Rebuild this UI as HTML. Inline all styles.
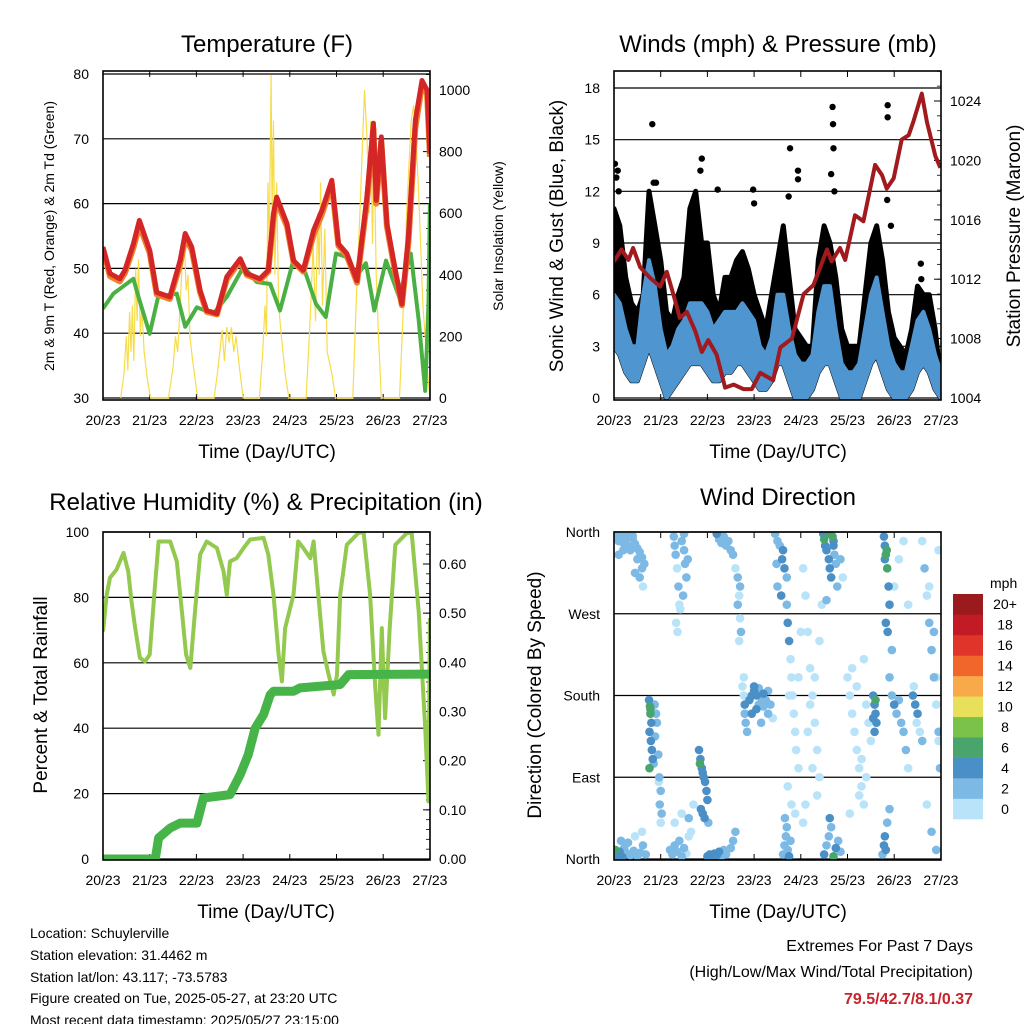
<!DOCTYPE html>
<html><head><meta charset="utf-8">
<style>
html,body{margin:0;padding:0;background:#fff;}
svg{display:block;font-family:"Liberation Sans",sans-serif;}
</style></head>
<body>
<svg id="fig" width="1024" height="1024" viewBox="0 0 1024 1024" xmlns="http://www.w3.org/2000/svg">
<rect width="1024" height="1024" fill="#fff"/>
<g id="p1"></g>
<g id="p2"></g>
<g id="p3"></g>
<g id="p4"></g>

<text x="267" y="52" font-size="24" text-anchor="middle">Temperature (F)</text>
<text x="778" y="52" font-size="24" text-anchor="middle">Winds (mph) &amp; Pressure (mb)</text>
<text x="266" y="510" font-size="24" text-anchor="middle">Relative Humidity (%) &amp; Precipitation (in)</text>
<text x="778" y="505" font-size="24" text-anchor="middle">Wind Direction</text>

<text x="267" y="458" font-size="19" text-anchor="middle">Time (Day/UTC)</text>
<text x="778" y="458" font-size="19" text-anchor="middle">Time (Day/UTC)</text>
<text x="266" y="918" font-size="19" text-anchor="middle">Time (Day/UTC)</text>
<text x="778" y="918" font-size="19" text-anchor="middle">Time (Day/UTC)</text>

<text transform="translate(54,236) rotate(-90)" font-size="14" text-anchor="middle">2m &amp; 9m T (Red, Orange) &amp; 2m Td (Green)</text>
<text transform="translate(503,236) rotate(-90)" font-size="14" text-anchor="middle">Solar Insolation (Yellow)</text>
<text transform="translate(563,236) rotate(-90)" font-size="19" text-anchor="middle">Sonic Wind &amp; Gust (Blue, Black)</text>
<text transform="translate(1020,236) rotate(-90)" font-size="19" text-anchor="middle">Station Pressure (Maroon)</text>
<text transform="translate(47,695) rotate(-90)" font-size="19" text-anchor="middle">Percent &amp; Total Rainfall</text>
<text transform="translate(541,695) rotate(-90)" font-size="19" text-anchor="middle">Direction (Colored By Speed)</text>

<g font-size="14">
<text x="30" y="938">Location: Schuylerville</text>
<text x="30" y="960">Station elevation: 31.4462 m</text>
<text x="30" y="982">Station lat/lon: 43.117; -73.5783</text>
<text x="30" y="1003">Figure created on Tue, 2025-05-27, at 23:20 UTC</text>
<text x="30" y="1025" >Most recent data timestamp: 2025/05/27 23:15:00</text>
</g>
<g text-anchor="end">
<text x="973" y="951" font-size="16">Extremes For Past 7 Days</text>
<text x="973" y="977" font-size="16">(High/Low/Max Wind/Total Precipitation)</text>
<text x="973" y="1004" font-size="16" font-weight="bold" fill="#c8232c">79.5/42.7/8.1/0.37</text>
</g>
<g id="cbar">
<text x="990" y="588" font-size="14">mph</text>
</g>
</svg>
<script>
// ---------- data ----------
const dayLabels = ["20/23","21/23","22/23","23/23","24/23","25/23","26/23","27/23"];
const tempTicks = [30,40,50,60,70,80];
const solarTicks = [0,200,400,600,800,1000];
const windTicks = [0,3,6,9,12,15,18];
const presTicks = [1004,1008,1012,1016,1020,1024];
const rhTicks = [0,20,40,60,80,100];
const precipTicks = [0,0.1,0.2,0.3,0.4,0.5,0.6];
const dirTicks = [0,90,180,270,360];
const dirNames = ["North","East","South","West","North"];
const speedBins = ["0","2","4","6","8","10","12","14","16","18","20+"];

const tempTimes = [0,0.15,0.36,0.47,0.65,0.78,1.0,1.15,1.43,1.65,1.76,1.9,2.08,2.22,2.44,2.65,2.94,3.08,3.36,3.54,3.65,3.72,3.94,4.08,4.29,4.51,4.69,4.9,5.04,5.22,5.44,5.65,5.79,5.85,5.96,6.08,6.26,6.4,6.54,6.69,6.83,6.94,7.0];
const tempRed = [53.3,49.2,48.4,49.7,53.8,57.4,52.8,46.3,45.6,51.2,55.4,53.3,46.6,43.5,43,48.7,51.5,49.2,48.4,49.7,58.5,61,56.9,51.2,49.7,55.9,59,63.6,53.8,52.3,48.1,61,72.4,60.5,70.3,56.9,49.7,44.5,54.8,72.9,79,77.5,67.7];
const tempOrange = [53,48.8,48,49.3,53.2,56.6,52.4,46,45.3,50.6,54.6,52.9,46.3,43.3,42.9,48.3,51.2,49,48.2,49.5,57.8,60.3,56.5,51,49.5,55.2,58.4,63,53.5,52,47.8,60.2,71.6,60,69.6,56.5,49.3,44.3,54,71.8,78.3,77,67.2];
const dewTimes = [0,0.22,0.65,0.76,1.0,1.18,1.58,1.76,2.01,2.36,2.65,3.01,3.29,3.58,3.79,4.06,4.34,4.56,4.77,4.99,5.2,5.41,5.63,5.81,6.06,6.34,6.59,6.76,6.9,6.97,7.0];
const dewVals = [43.8,46.1,48.4,45.6,39.9,45.6,46.1,41,44,43,45.6,50.3,47.9,47.6,43.5,50.8,49.2,44.5,42.5,52.3,51.8,48.6,50.8,43.5,51.2,45.6,52.3,42,31.1,44.5,60];
const solarTimes = [0.38,0.45,0.5,0.53,0.57,0.6,0.63,0.66,0.7,0.73,0.76,0.8,0.83,0.88,0.95,1.02,
 1.4,1.5,1.55,1.6,1.65,1.7,1.74,1.78,1.82,1.86,1.92,2.0,2.03,
 2.38,2.45,2.5,2.55,2.6,2.65,2.7,2.75,2.8,2.85,2.92,3.0,
 3.35,3.42,3.47,3.5,3.53,3.56,3.6,3.62,3.65,3.68,3.72,3.76,3.82,3.9,3.98,
 4.35,4.4,4.45,4.5,4.55,4.6,4.63,4.66,4.7,4.75,4.8,4.9,4.98,
 5.35,5.42,5.5,5.55,5.6,5.65,5.7,5.73,5.77,5.8,5.85,5.9,5.96,
 6.35,6.42,6.5,6.55,6.6,6.65,6.7,6.75,6.8,6.85,6.9,6.95,7.0];
const solarVals = [0,80,200,90,280,150,300,120,420,250,450,200,300,150,60,0,
 0,100,200,150,300,450,520,350,400,200,120,30,0,
 0,80,150,220,120,230,180,230,150,200,100,0,
 0,150,300,200,700,500,1050,600,900,400,700,300,200,80,0,
 0,150,300,500,250,600,400,700,300,550,150,80,0,
 0,300,600,800,1000,850,600,900,500,850,400,200,0,
 0,250,600,750,900,950,850,700,500,300,200,80,0];

const presTimes = [0,0.16,0.31,0.41,0.56,0.77,0.99,1.13,1.27,1.41,1.56,1.74,1.88,2.02,2.2,2.38,2.56,2.77,2.95,3.13,3.41,3.56,3.81,4.06,4.27,4.56,4.66,4.84,4.95,5.16,5.34,5.59,5.74,5.84,5.99,6.16,6.31,6.41,6.59,6.7,6.88,6.99];
const presVals = [1013.2,1014,1013.3,1014.1,1012.8,1012.1,1011.5,1012.5,1011,1009.4,1009.8,1008.5,1007.1,1007.9,1006.9,1004.7,1004.9,1004.6,1004.6,1005.7,1005.2,1007.4,1008,1011,1011.6,1014,1013.2,1014.1,1013.3,1016.3,1015.9,1019.7,1019,1018.1,1018.8,1021.4,1021.7,1022.6,1024.5,1022.6,1020.3,1019.5];
const gustMax = [11,10,7,5.5,5,6,12,10,8,5,4.5,6,7,11,12,9,9,6,5,7,7,8,8.5,7.5,6,5,4,6,8,10,7,4,3.5,3,3,8,10,9,7,4,3,3,3,6,9,10,8,5,3.5,3,2.5,4,6.5,6,6,4,1];
const windHi = [6,5.5,4,3,3,6,8,6.5,4,2.5,3,4,4.5,5.5,5.5,5.5,5,4,4.5,5,5,5,5.5,5,4.5,3,2.5,3.5,6,6,4,2.5,2,2,2.5,5,6.5,6.5,4,2,1.5,1.5,2,4,6,7,5,3,2,1.5,1.5,3,4.5,5,4,2.5,1.5];
const windLo = [3,2.5,1.5,1,1,2,3,2,1,0,0.5,1,1.5,2,2,2,1.5,1,1,1.5,1.5,2,2,1.5,1,0.5,0.5,1,2,2,1,0,0,0,0.5,1.5,2,2,1,0,0,0,0,1,2,2.5,1.5,0.5,0,0,0,0.5,1.5,2,1.5,0.5,0];
const gustOutT = [0.82,0.85,0.9,1.88,1.85,2.22,2.98,3.0,3.77,3.94,3.94,3.74,4.68,4.69,4.7,4.65,4.72,5.86,5.86,5.85,5.93,6.58,6.57,0.02,0.05,0.1,0.08];
const gustOutV = [15.9,12.5,12.5,13.9,13.2,12.1,12.1,11.3,14.5,13.2,12.7,11.7,16.9,15.9,14.5,13,12,17,16.3,11.5,10,6.9,7.8,13.6,12.8,12,13.2];

const rhTimes = [0,0.08,0.15,0.29,0.44,0.54,0.61,0.69,0.79,0.9,1.0,1.11,1.19,1.44,1.58,1.69,1.78,1.87,1.97,2.08,2.22,2.44,2.58,2.65,2.72,2.86,3.01,3.15,3.44,3.54,3.65,3.76,3.83,3.9,4.08,4.18,4.29,4.44,4.51,4.61,4.72,4.83,4.94,5.01,5.08,5.22,5.47,5.58,5.72,5.83,5.9,5.97,6.04,6.14,6.26,6.51,6.61,6.76,6.9,6.97,7.0];
const rhVals = [69.6,80.8,86,88.5,93.6,88,78.8,70.6,61.5,60.4,62.5,82.9,97.1,97.1,91,75.7,62.5,58.4,75.7,93.1,97.1,95.1,88,80.8,91,92,95.1,97.7,98.2,93.1,80.8,62.5,54.3,70.6,80.8,97.1,95.1,92,97.1,80.8,63.5,56.4,50.3,56.4,80.8,96.1,99.7,100,80.8,52.3,38,70.6,43.1,70.6,96.1,99.7,99.7,75.7,40,17.6,73.7];
const rainTimes = [0,1.12,1.19,1.44,1.65,2.01,2.15,2.72,2.94,3.11,3.26,3.44,3.58,3.65,4.08,4.22,5.08,5.26,7.0];
const rainVals = [0,0,0.043,0.063,0.073,0.073,0.124,0.131,0.172,0.212,0.266,0.294,0.334,0.341,0.341,0.348,0.355,0.375,0.376];

const dirTimes = [0.02,0.05,0.1,0.15,0.2,0.25,0.3,0.35,0.4,0.45,0.5,0.55,0.6,0.65,0.1,0.2,0.3,0.4,0.5,0.6,0.45,0.55,0.62,
0.0,0.03,0.08,0.12,0.18,0.22,0.28,0.35,0.42,0.5,0.56,0.62,0.68,0.15,0.3,0.45,0.6,
0.75,0.77,0.78,0.8,0.76,0.79,0.81,0.83,0.85,0.87,0.9,0.92,0.78,0.88,0.95,0.76,
0.97,1.0,0.98,1.02,1.0,0.96,
1.28,1.3,1.32,1.35,1.38,1.4,1.45,1.5,1.52,1.55,1.48,1.42,1.33,1.36,1.58,1.5,
1.2,1.25,1.3,1.35,1.4,1.45,1.5,1.55,1.6,1.65,1.3,1.45,1.6,1.7,
1.82,1.85,1.88,1.9,1.92,1.95,1.98,2.0,1.86,1.9,1.94,2.02,1.84,
2.0,2.05,2.1,2.15,2.2,2.25,2.3,2.35,2.4,2.5,2.55,2.6,
2.2,2.25,2.3,2.35,2.4,2.45,2.5,2.55,2.6,2.65,2.7,2.68,
2.65,2.7,2.72,2.68,
2.75,2.78,2.8,2.82,2.85,2.8,2.78,
2.9,2.95,3.0,3.05,3.1,3.15,3.2,3.25,3.3,3.35,2.95,3.05,3.15,3.0,3.1,3.2,3.3,3.4,
3.45,3.5,3.55,3.6,3.65,3.7,3.5,3.58,3.62,3.48,
3.7,3.72,3.75,3.78,3.8,3.82,3.85,3.88,3.9,3.95,3.72,3.8,3.88,3.95,4.0,3.75,
3.62,3.65,3.68,3.7,3.72,3.75,3.78,3.66,
4.48,4.5,4.52,4.55,4.6,4.62,4.65,4.68,4.7,4.72,4.75,4.78,4.55,4.62,4.7,4.85,4.9,
4.05,4.1,4.15,4.2,4.25,4.3,4.35,4.4,4.1,4.2,4.3,4.15,4.25,4.35,4.05,4.4,4.45,
4.5,4.55,4.6,4.65,4.7,4.75,4.8,4.85,4.62,
5.0,5.05,5.1,5.15,5.2,5.25,5.3,5.35,5.4,5.45,5.5,5.1,5.2,5.3,5.4,5.05,5.25,5.35,
5.55,5.58,5.6,5.62,5.58,5.6,5.55,
5.78,5.8,5.82,5.85,5.88,5.9,5.82,5.86,5.84,5.8,
5.9,5.95,6.0,6.05,6.1,6.15,6.2,6.25,6.3,6.0,6.1,6.2,5.95,6.3,
5.75,5.78,5.8,5.85,5.9,5.82,
6.4,6.45,6.5,6.42,6.48,6.55,6.6,
6.6,6.65,6.7,6.75,6.8,6.85,6.9,6.95,6.98,6.7,6.8,6.9,6.95,6.75,6.85,6.9,6.95];
const dirValues = [358,355,350,356,348,352,345,340,353,347,342,338,332,325,335,340,358,356,330,320,315,310,300,
5,10,3,8,2,12,6,4,9,3,7,15,5,20,18,25,30,
175,168,160,150,140,130,120,110,105,170,160,150,165,135,115,100,
90,75,60,50,40,85,
355,345,335,320,300,280,350,340,325,310,290,275,260,250,330,358,
10,5,15,8,20,3,12,6,25,30,40,50,45,60,
120,110,100,95,90,85,75,65,55,50,45,40,105,
3,5,2,6,4,8,3,10,5,12,20,30,
358,352,348,355,345,350,340,335,320,310,300,290,
280,265,250,240,
190,180,160,150,140,170,200,
175,180,185,180,170,178,182,175,185,170,160,165,150,190,188,168,160,155,
358,350,345,330,320,310,300,290,340,325,
280,260,240,220,200,180,160,140,120,100,80,60,50,200,250,180,
5,15,25,35,10,3,20,45,
358,352,345,340,330,320,310,355,345,335,325,300,285,358,350,330,310,
320,290,250,210,180,150,120,90,60,170,200,140,100,70,40,240,280,
5,15,25,35,3,12,20,8,45,
200,180,160,140,120,100,80,60,170,150,130,210,190,110,90,50,70,220,
180,170,160,150,140,175,155,
355,345,335,320,300,280,260,250,340,330,
200,180,170,160,175,150,140,120,100,300,330,350,230,280,
5,15,25,40,55,10,
180,170,160,190,150,140,130,
350,320,290,260,230,200,170,140,100,60,30,10,340,300,250,200,130];
const dirSpeeds = [3,2,3,2,3,2,3,3,2,3,3,3,3,2,3,2,2,3,3,3,3,2,1,
4,6,5,4,4,3,3,3,3,3,3,2,2,3,3,1,1,
4,6,6,4,5,4,4,4,3,3,3,3,6,3,3,6,
3,3,2,2,1,1,
2,2,2,1,2,1,2,2,2,2,2,1,1,1,2,2,
2,2,2,2,2,2,2,1,1,1,1,1,2,1,
5,4,5,5,4,4,4,5,4,5,4,3,7,
5,5,4,5,4,4,3,3,3,3,2,2,
4,3,3,2,3,2,3,2,1,3,2,1,
2,1,3,1,
1,1,2,2,3,4,1,
4,4,4,4,3,3,4,3,3,3,4,4,3,4,3,3,3,1,
2,3,2,4,4,3,2,4,4,2,
3,4,4,1,1,1,1,1,1,1,1,1,1,1,1,1,
2,3,2,2,3,4,2,2,
5,6,4,4,4,5,4,6,4,3,3,3,2,7,4,2,1,
1,1,1,1,1,1,1,1,1,1,1,1,1,1,1,1,1,
4,3,3,3,6,4,3,2,4,
1,1,1,1,1,1,1,1,1,1,1,1,1,1,1,1,1,1,
4,5,4,4,4,6,4,
4,4,6,6,4,4,4,4,6,4,
2,3,4,2,3,2,2,2,1,1,1,1,2,1,
3,4,4,3,3,4,
4,4,4,1,1,1,2,
1,2,1,2,2,2,1,2,2,1,2,2,1,1,2,1,1];
const binColors = ["#b8e3f8","#7db9e5","#4a8fc6","#4aa56c","#7bc24a","#e8e05a","#f8a94a","#f1662b","#e0332a","#c21b26","#9a1a1e"];

// ---------- helpers ----------
const NS="http://www.w3.org/2000/svg";
function mk(parent,tag,attrs){const e=document.createElementNS(NS,tag);for(const k in attrs)e.setAttribute(k,attrs[k]);parent.appendChild(e);return e;}
function txt(parent,x,y,s,size,anchor){const t=mk(parent,"text",{x:x,y:y,"font-size":size,"text-anchor":anchor});t.textContent=s;return t;}
function xScale(x0){return t=>x0+t*46.7;}
function lin(d0,d1,p0,p1){return v=>p0+(v-d0)*(p1-p0)/(d1-d0);}
function pathOf(xs,ys,fx,fy){return xs.map((t,i)=>(i?"L":"M")+fx(t).toFixed(1)+","+fy(ys[i]).toFixed(1)).join("");}

function frame(g,x0,x1,y0,y1,yL,ticksL,labL,yR,ticksR,labR,minorR){
  const fx=xScale(x0);
  ticksL.forEach((v,i)=>{
    const y=yL(v);
    const gl=mk(g,"line",{x1:x0,x2:x1,y1:y,y2:y,stroke:"#000","stroke-width":1.2});
    
    
    const t=txt(g,x0-14,y+5,labL[i],14,"end");
    
    
  });
  if(yR){
    ticksR.forEach((v,i)=>{
      const y=yR(v);
      mk(g,"line",{x1:x1-7,x2:x1,y1:y,y2:y,stroke:"#000","stroke-width":1});
      const t=txt(g,x1+9,y+5,labR[i],14,"start");
      
      
    });
    if(minorR){minorR.forEach(v=>{const y=yR(v);mk(g,"line",{x1:x1-4,x2:x1,y1:y,y2:y,stroke:"#000","stroke-width":0.8});});}
  }
  dayLabels.forEach((s,i)=>{
    const x=fx(i);
    mk(g,"line",{x1:x,x2:x,y1:y0,y2:y0+6,stroke:"#000"});
    mk(g,"line",{x1:x,x2:x,y1:y1-6,y2:y1,stroke:"#000"});
    const t=txt(g,x,y1+25,s,14,"middle");
    
    
  });
}
function border(g,x0,x1,y0,y1){
  const b=mk(g,"rect",{x:x0,y:y0,width:x1-x0,height:y1-y0,fill:"none",stroke:"#000","stroke-width":1.6});
  
  
}

// ---------- panel 1 ----------
(function(){
  const g=document.getElementById("p1");
  const x0=103,x1=430,y0=71,y1=400;
  const fx=xScale(x0), fy=lin(30,80,398,74), fs=lin(0,1000,398,90);
  const minor=[];for(let v=50;v<=1050;v+=50)minor.push(v);
  frame(g,x0,x1,y0,y1,fy,tempTicks,tempTicks.map(String),fs,solarTicks,solarTicks.map(String),minor);
  const cp=mk(g,"clipPath",{id:"c1"});mk(cp,"rect",{x:x0,y:y0,width:x1-x0,height:y1-y0});
  const d=mk(g,"g",{"clip-path":"url(#c1)"});
  const s=mk(d,"path",{d:pathOf(solarTimes,solarVals,fx,fs),fill:"none",stroke:"#f7dc4a","stroke-width":1.2});
  
  
  const dw=mk(d,"path",{d:pathOf(dewTimes,dewVals,fx,fy),fill:"none",stroke:"#4bb043","stroke-width":4,"stroke-linejoin":"round"});
  
  
  const o=mk(d,"path",{d:pathOf(tempTimes,tempOrange,fx,fy),fill:"none",stroke:"#f0802a","stroke-width":6,"stroke-linejoin":"round"});
  
  
  const r=mk(d,"path",{d:pathOf(tempTimes,tempRed,fx,fy),fill:"none",stroke:"#d42626","stroke-width":5,"stroke-linejoin":"round"});
  
  
  border(g,x0,x1,y0,y1);
})();

// ---------- panel 2 ----------
(function(){
  const g=document.getElementById("p2");
  const x0=614,x1=941,y0=71,y1=400;
  const fx=xScale(x0), fy=lin(0,18,398,88), fp=lin(1004,1024,398,101);
  const minor=[];for(let v=1005;v<=1026;v++)minor.push(v);
  frame(g,x0,x1,y0,y1,fy,windTicks,windTicks.map(String),fp,presTicks,presTicks.map(String),minor);
  const cp=mk(g,"clipPath",{id:"c2"});mk(cp,"rect",{x:x0,y:y0,width:x1-x0,height:y1-y0});
  const d=mk(g,"g",{"clip-path":"url(#c2)"});
  const bt=gustMax.map((v,i)=>i*0.125);
  let pd=pathOf(bt,gustMax,fx,fy);
  for(let i=bt.length-1;i>=0;i--)pd+="L"+fx(bt[i]).toFixed(1)+","+fy(windLo[i]).toFixed(1);
  const gf=mk(d,"path",{d:pd+"Z",fill:"#000",stroke:"#000","stroke-width":5,"stroke-linejoin":"round"});
  
  
  gustOutT.forEach((t,i)=>{
    const c=mk(d,"circle",{cx:fx(t),cy:fy(gustOutV[i]),r:3.2,fill:"#000"});
    
    
  });
  let wd=pathOf(bt,windHi,fx,fy);
  for(let i=bt.length-1;i>=0;i--)wd+="L"+fx(bt[i]).toFixed(1)+","+fy(windLo[i]).toFixed(1);
  const wf=mk(d,"path",{d:wd+"Z",fill:"#4f95cf",stroke:"#4f95cf","stroke-width":4,"stroke-linejoin":"round"});
  
  
  const p=mk(d,"path",{d:pathOf(presTimes,presVals,fx,fp),fill:"none",stroke:"#a11a1e","stroke-width":4,"stroke-linejoin":"round"});
  
  
  border(g,x0,x1,y0,y1);
})();

// ---------- panel 3 ----------
(function(){
  const g=document.getElementById("p3");
  const x0=103,x1=430,y0=532,y1=860;
  const fx=xScale(x0), fy=lin(0,100,859,532), fp=lin(0,0.6,859,564);
  const minor=[];for(let v=0.02;v<=0.66;v+=0.02)minor.push(v);
  frame(g,x0,x1,y0,y1,fy,rhTicks,rhTicks.map(String),fp,precipTicks,precipTicks.map(v=>v.toFixed(2)),minor);
  const cp=mk(g,"clipPath",{id:"c3"});mk(cp,"rect",{x:x0,y:y0,width:x1-x0,height:y1-y0});
  const d=mk(g,"g",{"clip-path":"url(#c3)"});
  const rh=mk(d,"path",{d:pathOf(rhTimes,rhVals,fx,fy),fill:"none",stroke:"#92c94e","stroke-width":4,"stroke-linejoin":"round"});
  
  
  const rn=mk(d,"path",{d:pathOf(rainTimes,rainVals,fx,fp),fill:"none",stroke:"#47b44a","stroke-width":9,"stroke-linejoin":"round"});
  
  
  border(g,x0,x1,y0,y1);
})();

// ---------- panel 4 ----------
(function(){
  const g=document.getElementById("p4");
  const x0=614,x1=941,y0=532,y1=860;
  const fx=xScale(x0), fy=lin(0,360,859,532);
  frame(g,x0,x1,y0,y1,fy,dirTicks,dirNames,null);
  const cp=mk(g,"clipPath",{id:"c4"});mk(cp,"rect",{x:x0,y:y0,width:x1-x0,height:y1-y0});
  const d=mk(g,"g",{"clip-path":"url(#c4)"});
  const order=dirTimes.map((t,i)=>i).sort((a,b)=>dirSpeeds[a]-dirSpeeds[b]);
  order.forEach(i=>{
    const bin=Math.min(10,Math.floor(dirSpeeds[i]/2));
    const c=mk(d,"circle",{cx:fx(dirTimes[i]),cy:fy(dirValues[i]),r:4.3,fill:binColors[bin]});
    
    
  });
  border(g,x0,x1,y0,y1);
  const cb=document.getElementById("cbar");
  const bh=(819-594)/11;
  speedBins.forEach((s,i)=>{
    const y=819-(i+1)*bh;
    const r=mk(cb,"rect",{x:953,y:y,width:30,height:bh+0.3,fill:binColors[i]});
    
    
    const t=txt(cb,1005,y+bh/2+5,s,14,"middle");
    
    
  });
})();
</script>
</body></html>
